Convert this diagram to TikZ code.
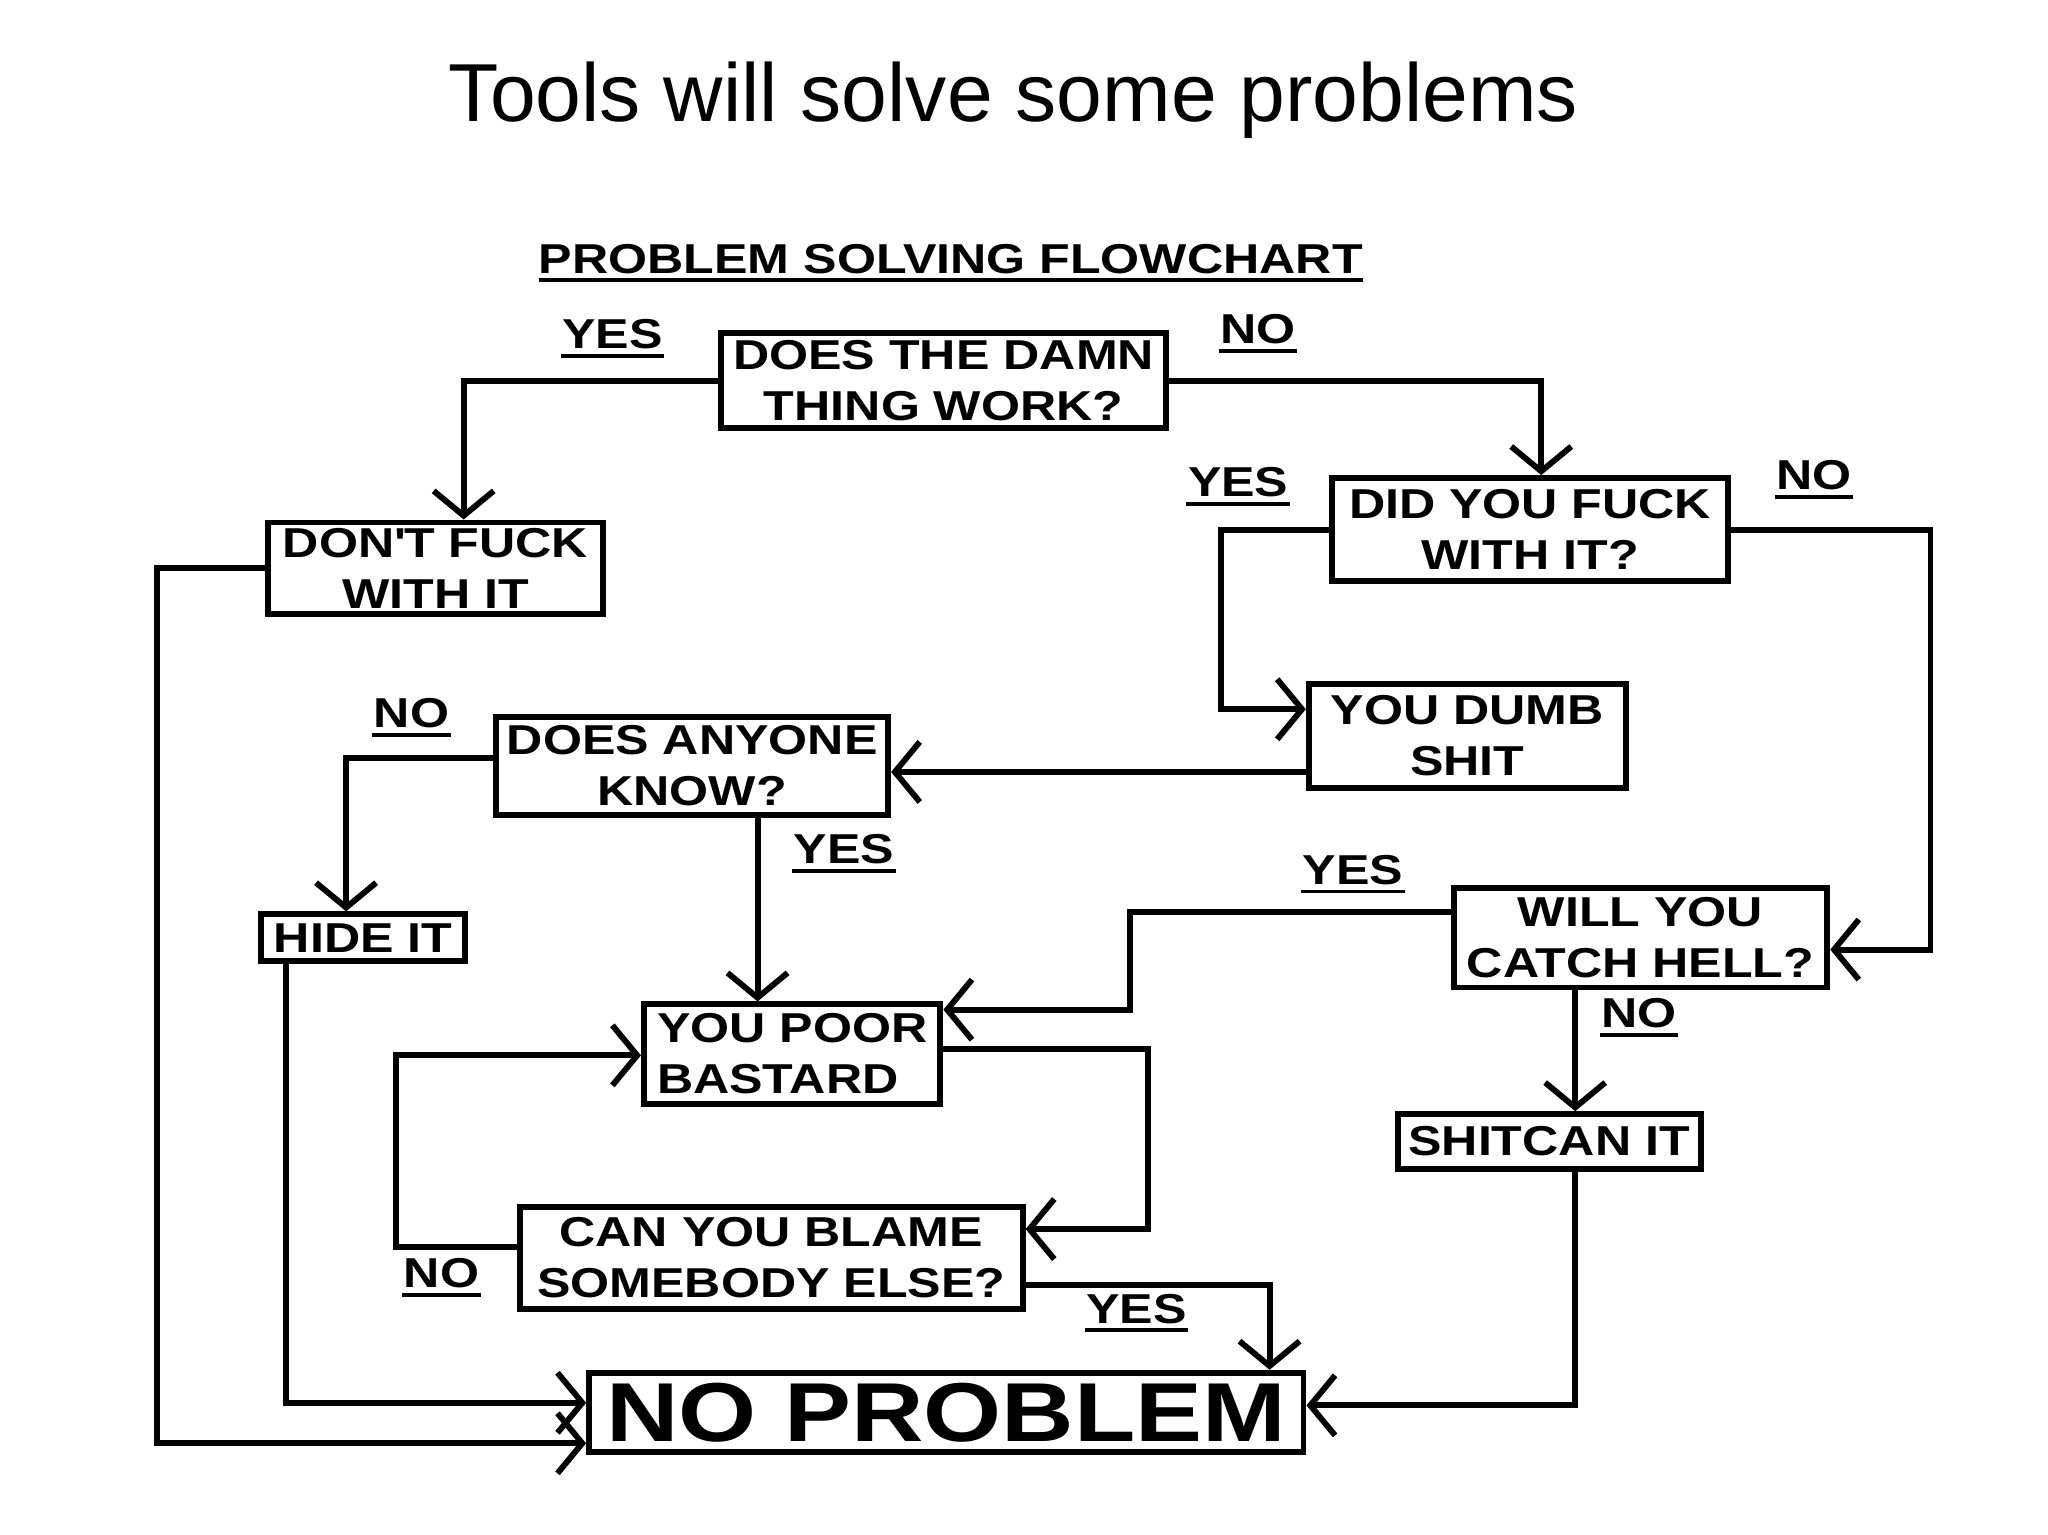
\documentclass[tikz,border=0pt]{standalone}
\usepackage{fontspec}
\setmainfont{Liberation Sans}
\newfontfamily\fcfont[FakeStretch=1.2]{Liberation Sans}
\usetikzlibrary{arrows.meta}
\begin{document}
\begin{tikzpicture}[x=1pt,y=-1pt,
  fcf/.style={font=\fcfont\bfseries\fontsize{32}{39}\selectfont},
  box/.style={fcf, draw, line width=4.5pt, inner sep=0pt, align=center},
  lab/.style={fcf, inner xsep=1pt, inner ysep=5pt,
    append after command={(\tikzlastnode.south west) edge[draw, line width=3pt] (\tikzlastnode.south east)}},
  arr/.style={line width=4.5pt, -{Straight Barb[length=19pt,width=46pt]}},
]
\fill[white] (0,0) rectangle (1568,1175);
\useasboundingbox (0,0) rectangle (1568,1175);

% title
\node[anchor=base, font=\fontsize{63}{75}\selectfont] (title) at (776,93) {Tools will solve some problems};
\node[lab, inner xsep=0pt] (head) at (728,198) {PROBLEM SOLVING FLOWCHART};

% boxes
\node[box, minimum width=341pt, minimum height=73pt] (b1) at (722.5,291.5) {DOES THE DAMN\\THING WORK?};
\node[box, minimum width=257pt, minimum height=70pt] (b2) at (333.5,435) {DON\textquotesingle T FUCK\\WITH IT};
\node[box, minimum width=303pt, minimum height=79pt] (b3) at (1171.5,405.5) {DID YOU FUCK\\WITH IT?};
\node[box, minimum width=243pt, minimum height=79pt] (b4) at (1123.5,563.5) {YOU DUMB\\SHIT};
\node[box, minimum width=300pt, minimum height=75pt] (b5) at (530,586.5) {DOES ANYONE\\KNOW?};
\node[box, minimum width=156pt, minimum height=36pt] (b6) at (278,718) {HIDE IT};
\node[box, minimum width=286pt, minimum height=76pt] (b7) at (1256,718) {WILL YOU\\CATCH HELL?};
\node[box, minimum width=227pt, minimum height=76pt, align=left] (b8) at (606.5,807) {YOU POOR\\BASTARD};
\node[box, minimum width=232pt, minimum height=42pt] (b9) at (1186,874) {SHITCAN IT};
\node[box, minimum width=385pt, minimum height=78pt] (b10) at (590.5,963) {CAN YOU BLAME\\SOMEBODY ELSE?};
\node[box, minimum width=547pt, minimum height=61pt, font=\fcfont\bfseries\fontsize{64}{70}\selectfont] (b11) at (724.5,1081.5) {NO PROBLEM};

% labels
\node[lab] (l1) at (469,256) {YES};
\node[lab] (l2) at (963,252) {NO};
\node[lab] (l3) at (948,369) {YES};
\node[lab] (l4) at (1389,364) {NO};
\node[lab] (l5) at (315,546) {NO};
\node[lab] (l6) at (646,650) {YES};
\node[lab] (l7) at (1036,666) {YES};
\node[lab] (l8) at (1255,776) {NO};
\node[lab] (l9) at (338,975) {NO};
\node[lab] (l10) at (870,1002) {YES};

% helper coordinates
\coordinate (xa) at (355,0);
\coordinate (xb) at (1180,0);
\coordinate (c1) at (935,543);
\coordinate (d1) at (1478,727);
\coordinate (e1) at (0,591);
\coordinate (f1) at (265,580);
\coordinate (g1) at (580,0);
\coordinate (h0) at (0,698);
\coordinate (h1) at (865,773);
\coordinate (i1) at (1206,0);
\coordinate (j0) at (0,803);
\coordinate (j1) at (879,941);
\coordinate (k0) at (0,955);
\coordinate (k1) at (303,808);
\coordinate (l0) at (972,984);
\coordinate (m1) at (1206,1076);
\coordinate (n1) at (219,1074);
\coordinate (o1) at (120,1105);

% connectors
\draw[arr] (b1.west) -| (b2.north -| xa);
\draw[arr] (b1.east) -| (b3.north -| xb);
\draw[arr] (b3.west) -| (c1) -- (c1 -| b4.west);
\draw[arr] (b3.east) -| (d1) -- (d1 -| b7.east);
\draw[arr] (b4.west |- e1) -- (b5.east |- e1);
\draw[arr] (b5.west |- f1) -| (b6.north -| f1);
\draw[arr] (b5.south -| g1) -- (b8.north -| g1);
\draw[arr] (b7.west |- h0) -| (h1) -- (h1 -| b8.east);
\draw[arr] (b7.south -| i1) -- (b9.north -| i1);
\draw[arr] (b8.east |- j0) -| (j1) -- (j1 -| b10.east);
\draw[arr] (b10.west |- k0) -| (k1) -- (k1 -| b8.west);
\draw[arr] (b10.east |- l0) -| (b11.north -| l0);
\draw[arr] (b9.south -| m1) |- (m1 -| b11.east);
\draw[arr] (b6.south -| n1) |- (n1 -| b11.west);
\draw[arr] (b2.west) -| (o1) -- (o1 -| b11.west);
\end{tikzpicture}
\end{document}
